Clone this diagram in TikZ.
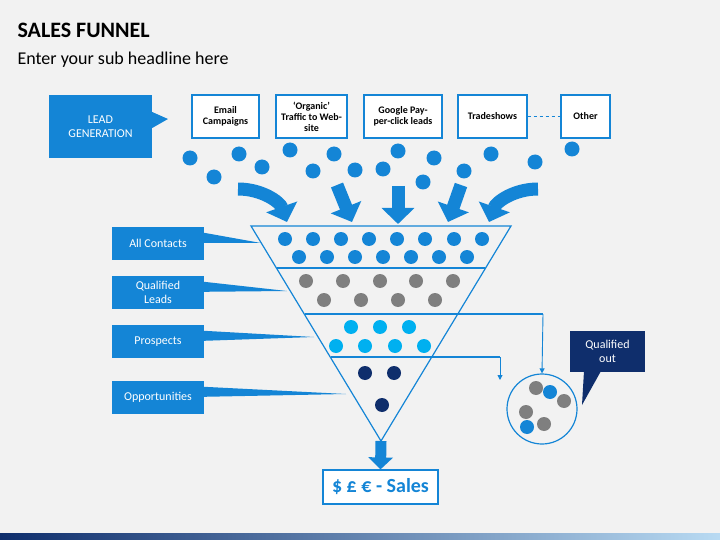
\documentclass[tikz,border=0pt]{standalone}
\usepackage{fontspec}
\setmainfont{Carlito}
\usetikzlibrary{shapes, arrows.meta, positioning}
\definecolor{fblue}{HTML}{1485D6}
\definecolor{fgray}{HTML}{7F7F7F}
\definecolor{fcyan}{HTML}{00B0F0}
\definecolor{fnavy}{HTML}{0F2E6C}
\definecolor{fbg}{HTML}{F2F2F2}
\tikzset{
  src/.style={draw=fblue, line width=1.2pt, fill=white, font=\bfseries\fontsize{10}{11}\selectfont, align=center, inner sep=1pt},
  stage/.style={fill=fblue, text=white, font=\fontsize{12}{14}\selectfont, align=center, minimum width=92pt, minimum height=33pt, inner sep=1pt},
  fat/.style={draw=fblue, line width=13pt, -{Triangle[width=32pt,length=16pt]}},
  thin/.style={draw=fblue, line width=0.9pt, -{Triangle[width=5pt,length=5pt]}}
}
\begin{document}
\begin{tikzpicture}[x=1pt, y=-1pt]
\fill[fbg] (0,0) rectangle (720,540);
\useasboundingbox (0,0) rectangle (720,540);
\shade[left color=fnavy, right color=fblue!30] (0,533) rectangle (720,540);
\node[anchor=west, font=\bfseries\fontsize{22}{24}\selectfont] (title) at (14,30) {SALES FUNNEL};
\node[anchor=west, font=\fontsize{18}{20}\selectfont] (sub) at (14,60) {Enter your sub headline here};

% lead generation
\node[fill=fblue, text=white, font=\fontsize{12}{14}\selectfont, align=center, minimum width=103pt, minimum height=63pt] (lead) at (100.5,126.5) {LEAD\\GENERATION};
\fill[fblue] (lead.east |- 0,112) -- (168,119) -- (lead.east |- 0,128) -- cycle;
\node[src, minimum width=67pt, minimum height=43pt] (mail) at (225.5,116.5) {Email\\Campaigns};
\node[src, minimum width=71pt, minimum height=43pt] (web) at (311.5,116.5) {‘Organic’\\Traffic to Web-\\site};
\node[src, minimum width=78pt, minimum height=43pt] (ppc) at (403,116.5) {Google Pay-\\per-click leads};
\node[src, minimum width=69pt, minimum height=43pt] (trade) at (492.5,116.5) {Tradeshows};
\node[src, minimum width=49pt, minimum height=43pt] (other) at (585.5,116.5) {Other};
\draw[fblue, dashed, line width=0.9pt] (trade) -- (other);

\foreach \x/\y in {190/158,214/177,239/154,262/167,290/150,313/171,334/154,355/170,383/169,398/151,423/182,434/158,464/171,491/154,535/162,572/149}
  \fill[fblue] (\x,\y) circle (7.5);

% funnel
\coordinate (tl) at (251,226);
\coordinate (tr) at (511,226);
\coordinate (apex) at (381,441);
\draw[fblue, line width=1.2pt] (tl) -- (tr) -- (apex) -- cycle;
\draw[fblue, line width=1.2pt] (277,268) -- (485,268);
\draw[fblue, line width=1.2pt] (305,314) -- (543,314);
\draw[fblue, line width=1.2pt] (331,357) -- (500,357);

\path[fat] (238,189) .. controls (262,189) and (280,202) .. (287,222);
\path[fat] (538,189) .. controls (514,189) and (496,202) .. (489,222);
\path[fat] (337,185) -- (352,222);
\path[fat] (398,186) -- (398,224);
\path[fat] (461,185) -- (448,222);

\foreach \x in {285,313,341,369,397,425,454,482} \fill[fblue] (\x,239) circle (7);
\foreach \x in {299,327,355,383,411,439,467} \fill[fblue] (\x,257) circle (7);
\foreach \x in {306,343,380,416,453} \fill[fgray] (\x,281) circle (7);
\foreach \x in {324,361,398,435} \fill[fgray] (\x,300) circle (7);
\foreach \x in {351,380,409} \fill[fcyan] (\x,327) circle (7);
\foreach \x in {336,365,395,424} \fill[fcyan] (\x,346) circle (7);
\foreach \x in {365,394} \fill[fnavy] (\x,373) circle (7);
\fill[fnavy] (382,405) circle (7);

% stages
\node[stage] (all) at (158,243.5) {All Contacts};
\node[stage] (qual) at (158,292.5) {Qualified\\Leads};
\node[stage] (pros) at (158,341.5) {Prospects};
\node[stage] (opp) at (158,397.5) {Opportunities};
\fill[fblue] (all.north east) ++(0,6) -- (261,243) -- ([yshift=-16pt]all.north east) -- cycle;
\fill[fblue] (qual.north east) ++(0,6) -- (287,291) -- ([yshift=-16pt]qual.north east) -- cycle;
\fill[fblue] (pros.north east) ++(0,6) -- (314,337) -- ([yshift=-16pt]pros.north east) -- cycle;
\fill[fblue] (opp.north east) ++(0,6) -- (346,394) -- ([yshift=-16pt]opp.north east) -- cycle;

% qualified out
\node[draw=fblue, line width=1.2pt, circle, minimum size=70pt, inner sep=0pt] (out) at (542,409) {};
\draw[thin] (543,314) -- (out.north);
\coordinate (lose) at (500,380);
\draw[thin] (500,357) -- (lose);
\foreach \x/\y/\c in {536/388/fgray,550/392/fblue,564/401/fgray,526/412/fgray,527/427/fblue,544/424/fgray}
  \fill[\c] (\x,\y) circle (7);
\node[fill=fnavy, text=white, font=\fontsize{12}{14}\selectfont, align=center, minimum width=75pt, minimum height=41pt] (qout) at (607.5,351.5) {Qualified\\out};
\fill[fnavy] (584,371) -- (582,405) -- (601,371) -- cycle;

% sales
\node[draw=fblue, line width=1.2pt, fill=white, text=fblue, font=\bfseries\fontsize{20}{22}\selectfont, minimum width=115pt, minimum height=34pt] (sales) at (380.5,487) {\$ £ € - Sales};
\draw[fat, line width=11pt, -{Triangle[width=24pt,length=12pt]}] (apex) -- (sales.north);
\end{tikzpicture}
\end{document}
